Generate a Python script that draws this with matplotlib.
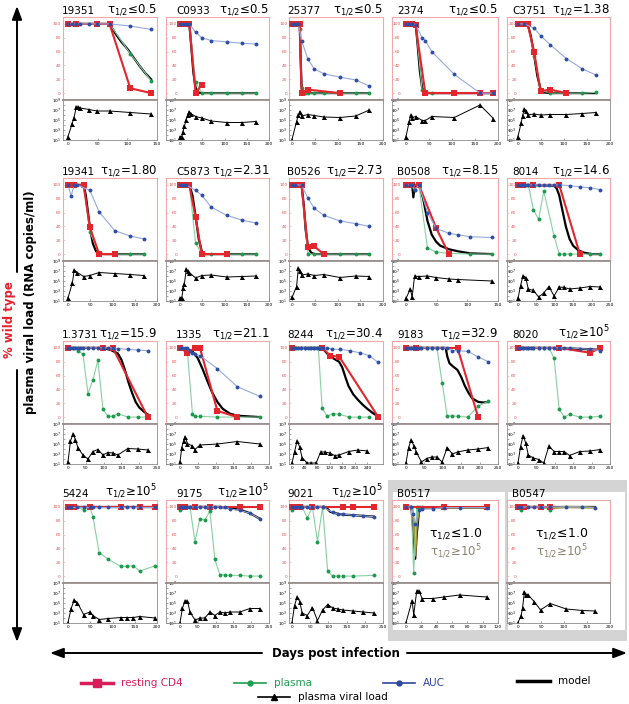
import numpy as np
import matplotlib.pyplot as plt
from matplotlib.patches import Rectangle
from matplotlib.ticker import FixedLocator, NullFormatter

W, H = 629, 704

# panels, row by row
panel_ids = ["19351", "C0933", "25377", "2374", "C3751",
             "19341", "C5873", "B0526", "B0508", "8014",
             "1.3731", "1335", "8244", "9183", "8020",
             "5424", "9175", "9021", "B0517", "B0547"]
half_life = ["≤0.5", "≤0.5", "≤0.5", "≤0.5", "=1.38",
             "=1.80", "=2.31", "=2.73", "=8.15", "=14.6",
             "=15.9", "=21.1", "=30.4", "=32.9", "≥10$^5$",
             "≥10$^5$", "≥10$^5$", "≥10$^5$", "", ""]
x_max = [150, 200, 200, 200, 200,
         200, 200, 200, 150, 250,
         250, 250, 290, 250, 250,
         200, 250, 250, 120, 200]
x_tick_step = [50] * 12 + [40] + [50] * 5 + [20, 50]
x_tick_last = [150, 200, 200, 200, 200,
               200, 200, 200, 150, 250,
               250, 250, 240, 250, 250,
               200, 250, 250, 120, 200]

# % wild type, resting CD4 (days, %)
resting_cd4 = {
    "19351": ([0, 14, 49, 70, 105, 140], [100, 100, 100, 100, 7, 0]),
    "C0933": ([0, 10, 14, 21, 35, 49], [100, 100, 100, 100, 0, 12]),
    "25377": ([0, 10, 14, 17, 21, 35, 105], [100, 100, 100, 100, 0, 5, 0]),
    "2374": ([0, 7, 14, 21, 42, 105, 161, 190], [100, 100, 100, 98, 0, 0, 0, 0]),
    "C3751": ([0, 7, 14, 21, 35, 49, 70, 105], [100, 100, 100, 100, 60, 3, 5, 0]),
    "19341": ([0, 10, 14, 35, 49, 70, 105], [100, 100, 100, 100, 39, 0, 0]),
    "C5873": ([0, 10, 21, 35, 49, 105], [100, 100, 100, 53, 0, 0]),
    "B0526": ([0, 10, 14, 21, 35, 49, 70], [100, 100, 100, 100, 10, 11, 0]),
    "B0508": ([0, 10, 21, 49, 70], [100, 100, 100, 38, 0]),
    "8014": ([0, 14, 42, 112, 168], [100, 100, 100, 100, 0]),
    "1.3731": ([0, 98, 126, 224], [100, 100, 100, 0]),
    "1335": ([0, 21, 42, 56, 105, 161], [100, 93, 100, 100, 9, 0]),
    "8244": ([0, 96, 122, 151, 275], [100, 100, 89, 87, 0]),
    "9183": ([0, 28, 140, 196], [100, 100, 100, 0]),
    "8020": ([0, 112, 196, 224], [100, 100, 93, 100]),
    "5424": ([0, 14, 49, 119, 161, 196], [100, 100, 100, 100, 100, 100]),
    "9175": ([0, 14, 42, 84, 168, 224], [100, 100, 100, 100, 100, 100]),
    "9021": ([0, 14, 21, 56, 140, 168, 224], [100, 100, 100, 100, 100, 100, 100]),
    "B0517": ([0, 49, 105], [100, 100, 100]),
    "B0547": ([0, 14, 49, 70], [100, 100, 100, 100]),
}

# % wild type, plasma
plasma = {
    "19351": ([0, 14, 49, 70, 105, 140], [100, 100, 100, 100, 57, 18]),
    "C0933": ([0, 14, 21, 35, 49, 70, 105, 140, 170], [100, 100, 100, 16, 0, 0, 0, 0, 0]),
    "25377": ([0, 14, 17, 21, 28, 35, 49, 70, 105, 140, 170], [100, 100, 93, 7, 0, 0, 0, 0, 0, 0, 0]),
    "2374": ([0, 14, 21, 35, 56, 105, 161, 190], [100, 100, 100, 4, 0, 0, 0, 0]),
    "C3751": ([0, 21, 35, 49, 70, 140, 170], [100, 100, 54, 4, 0, 0, 1]),
    "19341": ([0, 7, 35, 49, 70, 105, 140, 170], [100, 100, 100, 32, 1, 0, 0, 0]),
    "C5873": ([0, 21, 35, 49, 70, 105, 140, 170], [100, 100, 16, 0, 0, 0, 0, 0]),
    "B0526": ([0, 21, 35, 49, 70, 105, 140, 170], [100, 100, 0, 0, 0, 0, 0, 0]),
    "B0508": ([0, 10, 14, 21, 35, 49, 70, 105, 140], [100, 98, 93, 100, 9, 3, 1, 0, 0]),
    "8014": ([0, 14, 28, 42, 56, 70, 98, 112, 126, 140, 196, 224],
             [100, 100, 100, 64, 50, 91, 26, 0, 0, 0, 0, 0]),
    "1.3731": ([0, 14, 28, 42, 56, 70, 84, 98, 112, 126, 140, 168, 196, 224],
               [100, 100, 96, 91, 34, 54, 82, 12, 1, 1, 5, 0, 0, 0]),
    "1335": ([0, 7, 14, 21, 35, 42, 56, 105, 161, 224], [100, 100, 98, 93, 5, 1, 1, 0, 0, 0]),
    "8244": ([0, 14, 28, 42, 56, 70, 84, 96, 112, 130, 150, 183, 215, 244],
             [100, 100, 100, 100, 100, 100, 100, 13, 1, 5, 4, 0, 0, 0]),
    "9183": ([0, 14, 28, 42, 56, 70, 84, 98, 112, 126, 140, 168, 196, 224],
             [100, 100, 100, 100, 100, 100, 100, 50, 1, 2, 1, 0, 16, 23]),
    "8020": ([0, 14, 28, 42, 56, 70, 84, 98, 112, 126, 140, 168, 196, 224],
             [100, 100, 100, 100, 100, 100, 100, 85, 11, 0, 4, 0, 0, 1]),
    "5424": ([0, 14, 35, 49, 56, 70, 91, 119, 133, 147, 161, 196],
             [100, 100, 96, 100, 86, 34, 24, 14, 14, 15, 7, 15]),
    "9175": ([0, 14, 28, 42, 56, 70, 84, 98, 112, 126, 140, 168, 196, 224],
             [96, 100, 100, 50, 83, 81, 94, 24, 2, 2, 1, 1, 0, 0]),
    "9021": ([0, 14, 28, 42, 56, 70, 84, 98, 112, 126, 140, 168, 224],
             [96, 100, 100, 84, 100, 50, 100, 7, 0, 0, 0, 0, 1]),
    "B0517": ([0, 7, 10, 14, 17, 21], [100, 100, 4, 100, 100, 100]),
    "B0547": ([0, 7, 14, 49, 70], [100, 96, 100, 100, 96]),
}

# % wild type, AUC
auc = {
    "19351": ([0, 7, 14, 21, 35, 49, 70, 105, 140], [100, 100, 100, 100, 100, 100, 100, 97, 92]),
    "C0933": ([0, 7, 14, 21, 35, 49, 70, 105, 140, 170], [100, 100, 100, 100, 88, 80, 76, 74, 72, 71]),
    "25377": ([0, 7, 14, 21, 35, 49, 70, 105, 140, 170], [100, 100, 100, 76, 49, 35, 28, 23, 19, 10]),
    "2374": ([0, 7, 14, 21, 35, 42, 56, 105, 161, 190], [100, 100, 100, 99, 80, 76, 60, 27, 0, 0]),
    "C3751": ([0, 14, 35, 49, 70, 105, 140, 170], [100, 100, 94, 83, 70, 50, 35, 26]),
    "19341": ([0, 7, 14, 21, 49, 70, 105, 140, 170], [100, 84, 100, 100, 92, 61, 34, 26, 22]),
    "C5873": ([0, 7, 14, 35, 49, 70, 105, 140, 170], [100, 100, 100, 92, 85, 68, 56, 49, 45]),
    "B0526": ([0, 7, 21, 35, 49, 70, 105, 140, 170], [100, 100, 100, 81, 66, 56, 48, 44, 40]),
    "B0508": ([0, 7, 10, 14, 21, 35, 49, 70, 84, 105, 140],
              [100, 100, 100, 92, 100, 60, 37, 30, 28, 25, 24]),
    "8014": ([0, 7, 14, 21, 28, 42, 56, 70, 84, 98, 112, 140, 168, 196, 224],
             [100, 100, 100, 100, 100, 100, 100, 100, 100, 100, 100, 99, 97, 96, 93]),
    "1.3731": ([0, 7, 14, 21, 28, 35, 42, 56, 70, 84, 98, 112, 126, 140, 168, 196, 224],
               [100, 100, 100, 100, 100, 100, 100, 100, 100, 100, 100, 100, 100, 99, 98, 97, 96]),
    "1335": ([0, 7, 14, 21, 28, 35, 42, 56, 105, 161, 224],
             [100, 100, 100, 100, 95, 93, 91, 89, 70, 44, 30]),
    "8244": ([0, 10, 20, 30, 40, 50, 60, 70, 80, 90, 100, 112, 128, 152, 184, 216, 245, 275],
             [100, 100, 100, 100, 100, 100, 100, 100, 100, 100, 100, 100, 98, 98, 96, 93, 89, 79]),
    "9183": ([0, 7, 14, 21, 28, 35, 42, 56, 70, 84, 98, 112, 126, 140, 168, 196, 224],
             [100, 100, 100, 100, 100, 100, 100, 100, 100, 100, 100, 100, 96, 96, 95, 87, 80]),
    "8020": ([0, 7, 14, 21, 28, 35, 42, 56, 70, 84, 98, 112, 126, 140, 168, 196, 224],
             [100, 100, 100, 100, 100, 100, 100, 100, 100, 100, 100, 100, 100, 100, 99, 98, 96]),
    "5424": ([0, 7, 21, 35, 49, 56, 70, 91, 119, 133, 147, 161, 196],
             [100, 100, 100, 100, 100, 100, 100, 100, 100, 100, 100, 100, 100]),
    "9175": ([0, 7, 14, 21, 28, 42, 56, 70, 84, 98, 112, 126, 140, 168, 196, 224],
             [100, 100, 100, 100, 100, 100, 100, 100, 100, 100, 100, 100, 97, 95, 91, 83]),
    "9021": ([0, 7, 14, 21, 28, 42, 56, 70, 84, 112, 126, 140, 168, 196, 224],
             [100, 100, 100, 100, 100, 100, 100, 100, 100, 92, 90, 89.5, 88, 87, 86]),
    "B0517": ([0, 7, 9, 12, 17, 21, 35, 49, 70, 105], [100, 100, 90, 76, 96, 97, 97, 99, 99, 99]),
    "B0547": ([0, 7, 21, 35, 49, 70, 105, 140, 168], [100, 100, 100, 100, 100, 100, 100, 100, 99]),
}

# model fit (black curve)
model = {
    "19351": ([0, 70, 80, 90, 100, 110, 120, 130, 140], [100, 100, 86, 74, 64, 52, 40, 29, 20]),
    "C0933": ([0, 21, 25, 30, 35, 40, 50, 170], [100, 100, 70, 30, 8, 1, 0, 0]),
    "25377": ([0, 17, 19, 21, 24, 30, 170], [100, 100, 50, 10, 2, 0, 0]),
    "2374": ([0, 21, 25, 30, 35, 40, 50, 190], [100, 100, 72, 32, 8, 1, 0, 0]),
    "C3751": ([0, 21, 28, 35, 42, 49, 56, 70, 170], [100, 100, 82, 55, 25, 6, 1, 0, 0]),
    "19341": ([0, 35, 40, 45, 50, 56, 63, 70, 80, 170], [100, 100, 85, 60, 35, 15, 4, 1, 0, 0]),
    "C5873": ([0, 21, 28, 35, 42, 49, 56, 170], [100, 100, 85, 55, 22, 4, 0, 0]),
    "B0526": ([0, 21, 26, 30, 35, 42, 49, 170], [100, 100, 70, 35, 10, 2, 0, 0]),
    "B0508": ([0, 10, 12, 14, 21, 28, 35, 42, 49, 56, 70, 85, 105, 140],
              [100, 100, 82, 98, 100, 80, 48, 28, 18, 12, 7, 4, 1, 0]),
    "8014": ([0, 98, 105, 112, 120, 130, 140, 150, 165, 180, 200, 224],
             [100, 99, 95, 85, 65, 40, 22, 12, 5, 2, 0, 0]),
    "1.3731": ([0, 100, 120, 140, 150, 160, 170, 180, 190, 200, 215, 224],
               [100, 100, 97, 92, 83, 68, 50, 35, 22, 14, 7, 4]),
    "1335": ([0, 21, 35, 50, 63, 77, 90, 105, 120, 140, 161, 224],
             [100, 98, 95, 85, 70, 52, 36, 22, 12, 5, 2, 0]),
    "8244": ([0, 96, 110, 120, 135, 150, 160, 170, 180, 195, 210, 225, 240, 260, 275],
             [100, 100, 93, 88, 84, 80, 72, 58, 45, 33, 25, 18, 12, 5, 1]),
    "9183": ([0, 108, 112, 118, 126, 140, 150, 160, 170, 180, 196, 210, 224],
             [100, 100, 88, 78, 74, 68, 58, 45, 35, 27, 22, 21, 22]),
    "8020": ([0, 112, 150, 196, 224], [100, 100, 99, 98, 97]),
    "5424": ([0, 196], [100, 100]),
    "9175": ([0, 112, 140, 168, 196, 224], [100, 100, 98, 96, 91, 83]),
    "9021": ([0, 90, 98, 105, 112, 126, 140, 168, 196, 224], [100, 100, 97, 93, 92, 90, 89, 88, 87, 86]),
    "B0517": ([0, 7, 10, 12, 14, 17, 21, 35, 105], [100, 100, 60, 25, 60, 95, 98, 99, 99]),
    "B0547": ([0, 168], [100, 100]),
}

# second model for the two bracketed animals (tau >= 1e5)
model_alt = {
    "B0517": ([0, 8, 10, 12, 14, 17, 21, 105], [100, 100, 80, 30, 75, 97, 99, 99]),
    "B0547": ([0, 7, 14, 49, 70, 105, 168], [100, 98, 100, 100, 98, 100, 99]),
}

# plasma viral load, log10 RNA copies/ml
viral_load = {
    "19351": ([0, 7, 10, 14, 17, 21, 35, 49, 70, 105, 140],
              [1.7, 4.3, 5.4, 7.6, 7.6, 7.4, 7.1, 6.8, 6.8, 6.5, 6.2]),
    "C0933": ([0, 4, 7, 10, 14, 17, 21, 24, 35, 49, 70, 105, 140, 170],
              [1.7, 1.7, 2.7, 3.8, 5.0, 6.0, 6.7, 6.3, 5.7, 5.4, 4.8, 4.5, 4.5, 4.7]),
    "25377": ([0, 10, 14, 17, 21, 35, 49, 70, 105, 140, 170],
              [1.1, 4.7, 6.0, 6.7, 5.8, 6.1, 5.9, 5.6, 5.5, 5.8, 7.0]),
    "2374": ([0, 7, 10, 14, 21, 35, 42, 56, 105, 161, 190],
             [1.7, 4.7, 6.0, 5.5, 5.7, 4.9, 4.9, 5.7, 5.5, 8.0, 5.3]),
    "C3751": ([0, 7, 10, 14, 17, 21, 35, 49, 70, 105, 140, 170],
              [1.7, 4.5, 5.9, 7.2, 6.9, 6.0, 6.2, 6.0, 6.1, 6.1, 6.3, 6.5]),
    "19341": ([0, 10, 14, 21, 35, 49, 70, 105, 140, 170],
              [1.6, 4.7, 7.2, 6.7, 5.9, 6.1, 6.7, 6.5, 6.3, 6.1]),
    "C5873": ([0, 4, 7, 10, 14, 17, 21, 35, 49, 70, 105, 140, 170],
              [1.6, 1.6, 3.5, 4.5, 7.4, 7.0, 6.7, 5.6, 6.1, 6.2, 5.8, 5.9, 6.0]),
    "B0526": ([0, 10, 14, 17, 21, 35, 49, 70, 105, 140, 170],
              [1.7, 3.9, 7.6, 7.1, 6.2, 6.4, 6.1, 6.3, 5.7, 6.0, 5.9]),
    "B0508": ([0, 7, 10, 14, 21, 35, 49, 70, 84, 140],
              [1.5, 3.4, 1.8, 6.0, 5.9, 6.0, 5.7, 5.4, 5.3, 5.0]),
    "8014": ([0, 7, 14, 21, 28, 42, 56, 70, 84, 98, 112, 126, 140, 168, 196, 224],
             [1.5, 4.1, 6.1, 5.7, 3.4, 3.1, 1.8, 2.6, 3.9, 2.0, 3.8, 3.7, 3.4, 3.6, 3.9, 3.8]),
    "1.3731": ([0, 7, 14, 21, 28, 42, 56, 70, 84, 98, 112, 126, 140, 168, 196, 224],
               [1.4, 5.6, 7.0, 5.9, 4.2, 2.8, 2.0, 3.5, 3.9, 2.8, 3.3, 3.2, 2.8, 4.1, 4.0, 3.8]),
    "1335": ([0, 5, 10, 14, 21, 35, 42, 56, 105, 161, 224],
             [1.4, 4.3, 5.6, 6.5, 5.1, 4.6, 3.9, 4.8, 5.0, 5.5, 5.0]),
    "8244": ([0, 8, 16, 24, 32, 48, 61, 77, 91, 104, 120, 136, 150, 181, 210, 240],
             [1.2, 3.4, 5.6, 4.5, 2.3, 1.2, 1.2, 1.2, 3.4, 3.4, 3.2, 2.7, 2.8, 3.5, 3.8, 3.6]),
    "9183": ([0, 7, 14, 21, 28, 42, 56, 70, 84, 98, 112, 126, 140, 168, 196, 224],
             [1.2, 4.3, 5.8, 4.7, 3.4, 1.4, 2.1, 2.4, 2.4, 1.4, 4.3, 3.0, 3.4, 3.8, 4.0, 4.3]),
    "8020": ([0, 7, 14, 21, 28, 42, 56, 70, 84, 98, 112, 126, 140, 168, 196, 224],
             [1.2, 4.5, 6.7, 5.2, 2.8, 2.2, 1.9, 1.2, 4.6, 3.5, 3.5, 3.5, 2.7, 3.5, 3.6, 3.9]),
    "5424": ([0, 7, 14, 21, 35, 49, 56, 70, 91, 119, 133, 147, 161, 196],
             [1.1, 3.9, 5.6, 5.1, 2.7, 3.2, 2.5, 1.7, 1.9, 2.1, 2.1, 2.1, 2.3, 2.0]),
    "9175": ([0, 7, 14, 21, 28, 42, 56, 70, 84, 98, 112, 126, 140, 168, 196, 224],
             [1.1, 4.0, 5.4, 5.4, 3.2, 1.6, 2.0, 2.0, 3.2, 2.5, 3.2, 3.0, 3.2, 3.2, 3.9, 3.9]),
    "9021": ([0, 7, 14, 21, 28, 42, 56, 70, 84, 98, 112, 126, 140, 168, 196, 224],
             [1.1, 4.5, 6.2, 5.3, 3.0, 2.5, 4.1, 1.5, 3.6, 4.7, 4.0, 3.8, 3.6, 3.4, 3.2, 3.0]),
    "B0517": ([0, 8, 10, 14, 17, 21, 35, 49, 70, 105],
              [1.1, 5.5, 2.6, 7.4, 7.4, 5.9, 5.9, 6.2, 6.6, 6.2]),
    "B0547": ([0, 7, 10, 14, 17, 21, 35, 49, 70, 105, 140, 168],
              [1.1, 2.5, 4.1, 7.3, 6.7, 6.7, 5.3, 3.6, 4.9, 3.8, 3.5, 3.4]),
}

# colours
RED = "#e3262b"
GREEN = "#1c9a4c"
GREEN_LINE = "#88d0a2"
BLUE = "#2e4ea6"
BLUE_LINE = "#95aadc"
FRAME_RED = "#f0a8a8"
SEP_GRAY = "#9a9090"
OLIVE = "#a8953a"
TAU_GRAY = "#8c8270"

# layout in pixels
col_edges = [(63, 157), (166, 269), (289, 383), (392, 498), (507, 610)]
col_zero = [68, 180, 292, 406, 518]
col_pad = [1.5, -8, 1, -6, -7]
id_offset = [-1, 10, -2, 5, 5]
row_top = [17, 178, 341, 500]
top_h = 83
bot_h = 40


def px_rect(left, top, width, height):
    return [left / W, 1 - (top + height) / H, width / W, height / H]


fig = plt.figure(figsize=(W / 100, H / 100), dpi=100)

# overlay in pixel coordinates for frame decorations
ax0 = fig.add_axes([0, 0, 1, 1])
ax0.set_xlim(0, W)
ax0.set_ylim(H, 0)
ax0.axis("off")

ax0.add_patch(Rectangle((388, 480), 239, 161, color="#d4d4d4", lw=0))
ax0.add_patch(Rectangle((393, 492), 112, 138, color="white", lw=0))
ax0.add_patch(Rectangle((508, 492), 117, 138, color="white", lw=0))

for i, pid in enumerate(panel_ids):
    r, c = divmod(i, 5)
    left, right = col_edges[c]
    zero = col_zero[c]
    top = row_top[r]
    width = right - left
    lo = -(zero - left) / (right - zero) * x_max[i]

    ax = fig.add_axes(px_rect(left, top, width, top_h))
    axb = fig.add_axes(px_rect(left, top + top_h, width, bot_h))

    mx, my = model[pid]
    ax.plot(mx, my, color="k", lw=1.6, zorder=3)
    if pid in model_alt:
        ox, oy = model_alt[pid]
        ax.plot(ox, oy, color=OLIVE, lw=1.6, zorder=3.2)
    gx, gy = plasma[pid]
    ax.plot(gx, gy, color=GREEN_LINE, lw=0.8, zorder=4)
    ax.plot(gx, gy, "o", color=GREEN, ms=2.8, mew=0, zorder=4.5)
    rx, ry = resting_cd4[pid]
    ax.plot(rx, ry, color=RED, lw=1.5, marker="s", ms=4.3, mew=0, zorder=5)
    bx, by = auc[pid]
    ax.plot(bx, by, color=BLUE_LINE, lw=0.8, zorder=6)
    ax.plot(bx, by, "o", color=BLUE, ms=2.8, mew=0, zorder=6.5)

    ax.set_xlim(lo, x_max[i])
    ax.set_ylim(-10, 110)
    ax.set_xticks([])
    ax.set_yticks([0, 20, 40, 60, 80, 100])
    ax.tick_params(axis="y", direction="in", length=1.5, width=0.4, labelsize=3.2,
                   labelcolor="#e05555", color=FRAME_RED, pad=col_pad[c])
    for s in ax.spines.values():
        s.set_color(FRAME_RED)
        s.set_linewidth(0.8)
    ax.spines["bottom"].set_color(SEP_GRAY)
    ax.spines["bottom"].set_linewidth(1.3)

    vx, vy = viral_load[pid]
    axb.plot(vx, 10 ** np.array(vy), color="k", lw=0.7, marker="^", ms=3.6, mew=0)
    axb.set_yscale("log")
    axb.set_ylim(10, 1e9)
    axb.set_xlim(lo, x_max[i])
    axb.set_yticks([1e1, 1e3, 1e5, 1e7, 1e9],
                   ["10$^{1}$", "10$^{3}$", "10$^{5}$", "10$^{7}$", "10$^{9}$"])
    axb.yaxis.set_minor_locator(FixedLocator([1e2, 1e4, 1e6, 1e8]))
    axb.yaxis.set_minor_formatter(NullFormatter())
    axb.set_xticks(np.arange(0, x_tick_last[i] + 1, x_tick_step[i]))
    axb.tick_params(axis="both", which="both", direction="in", length=1.5, width=0.4,
                    labelsize=3.2, color="#666666")
    axb.tick_params(axis="y", pad=col_pad[c])
    axb.tick_params(axis="x", pad=1.5)
    for s in axb.spines.values():
        s.set_color("#8a8a8a")
        s.set_linewidth(0.6)
    axb.spines["top"].set_color(SEP_GRAY)
    axb.spines["top"].set_linewidth(1.3)

    ax0.text(left + id_offset[c], top - 3, pid, fontsize=7.5, ha="left", va="baseline")
    if half_life[i]:
        ax0.text(right, top - 4.5, "τ$_{1/2}$" + half_life[i], fontsize=8.5,
                 ha="right", va="baseline")
    else:
        cx = 0.6 if pid == "B0517" else 0.53
        ax.text(cx, 0.6, "τ$_{1/2}$≤1.0", transform=ax.transAxes, fontsize=9,
                ha="center", va="center", zorder=10)
        ax.text(cx, 0.38, "τ$_{1/2}$≥10$^5$", transform=ax.transAxes, fontsize=8.5,
                ha="center", va="center", color=TAU_GRAY, zorder=10)

# side label and arrows
arrow = dict(arrowstyle="-|>,head_length=0.8,head_width=0.3", color="k", lw=1.4,
             shrinkA=0, shrinkB=0)
ax0.annotate("", xy=(17, 6), xytext=(17, 272), arrowprops=arrow)
ax0.annotate("", xy=(17, 642), xytext=(17, 370), arrowprops=arrow)
ax0.text(10, 320, "% wild type", rotation=90, color="#e8202a", fontsize=8.5,
         fontweight="bold", ha="center", va="center")
ax0.text(31, 302, "plasma viral load (RNA copies/ml)", rotation=90, fontsize=8.5,
         fontweight="bold", ha="center", va="center")

ax0.annotate("", xy=(50, 653), xytext=(262, 653), arrowprops=arrow)
ax0.annotate("", xy=(627, 653), xytext=(407, 653), arrowprops=arrow)
ax0.text(336, 653, "Days post infection", fontsize=8.5, fontweight="bold",
         ha="center", va="center")

# legend
leg_y1, leg_y2 = 683, 697
ax0.plot([81, 113], [leg_y1, leg_y1], color="#d81f5b", lw=2.5)
ax0.plot([97], [leg_y1], "s", color="#d81f5b", ms=6)
ax0.text(121, leg_y1, "resting CD4", color="#d81f5b", fontsize=7.5, va="center")
ax0.plot([234, 266], [leg_y1, leg_y1], color="#1f9d50", lw=1.2)
ax0.plot([250], [leg_y1], "o", color="#1f9d50", ms=3.5)
ax0.text(274, leg_y1, "plasma", color="#1f9d50", fontsize=7.5, va="center")
ax0.plot([383, 415], [leg_y1, leg_y1], color="#2f45a0", lw=1.2)
ax0.plot([399], [leg_y1], "o", color="#2f45a0", ms=3.5)
ax0.text(423, leg_y1, "AUC", color="#2f45a0", fontsize=7.5, va="center")
ax0.plot([517, 550], [leg_y1 - 2, leg_y1 - 2], color="k", lw=2.5)
ax0.text(558, leg_y1 - 2, "model", fontsize=7.5, va="center")
ax0.plot([258, 290], [leg_y2, leg_y2], color="k", lw=1.2)
ax0.plot([274], [leg_y2], "^", color="k", ms=5)
ax0.text(298, leg_y2, "plasma viral load", fontsize=7.5, va="center")

fig.savefig("out.png", dpi=100)
